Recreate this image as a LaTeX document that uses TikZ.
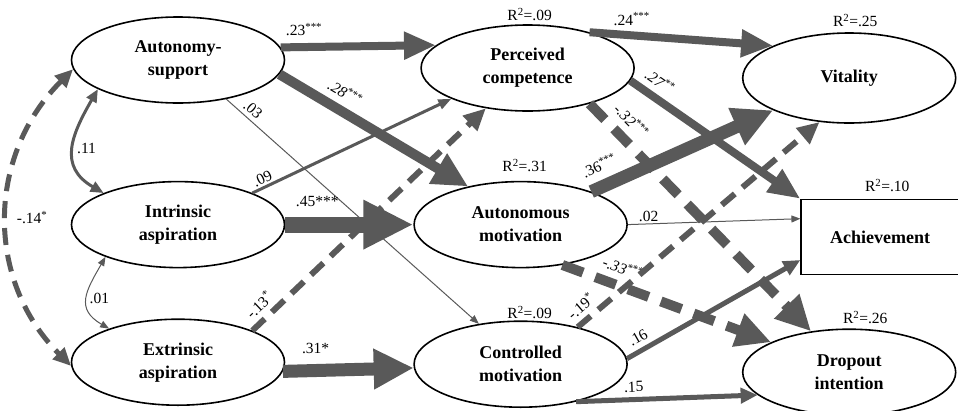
\documentclass[tikz,border=0pt]{standalone}
\usepackage{fontspec}
\setmainfont{Liberation Serif}
\usetikzlibrary{shapes.geometric, arrows.meta, positioning}
\definecolor{pathgray}{RGB}{89,89,89}
\tikzset{
    latent/.style={ellipse, draw=black, line width=1.6pt, minimum width=213pt, minimum height=86pt, inner sep=0pt, align=center, font=\fontsize{18}{23}\selectfont\bfseries},
    observed/.style={rectangle, draw=black, line width=1.6pt, minimum width=158pt, minimum height=75pt, inner sep=0pt, font=\fontsize{18}{23}\selectfont\bfseries},
    rsq/.style={font=\fontsize{15.5}{16}\selectfont, inner sep=1pt},
    coef/.style={font=\fontsize{15.5}{16}\selectfont, inner sep=2pt},
    e1/.style={draw=pathgray, line width=1pt, -{Triangle[length=9pt, width=7pt]}},
    e3/.style={draw=pathgray, line width=3pt, -{Triangle[length=13pt, width=10pt]}},
    e5/.style={draw=pathgray, line width=5pt, -{Triangle[length=17pt, width=15pt]}},
    e6/.style={draw=pathgray, line width=6pt, -{Triangle[length=22pt, width=20pt]}},
    e8/.style={draw=pathgray, line width=8pt, -{Triangle[length=32pt, width=26pt]}},
    e10/.style={draw=pathgray, line width=10pt, -{Triangle[length=35pt, width=33pt]}},
    e13/.style={draw=pathgray, line width=13pt, -{Triangle[length=40pt, width=38pt]}},
    e16/.style={draw=pathgray, line width=16pt, -{Triangle[length=50pt, width=46pt]}},
    c1/.style={draw=pathgray, line width=1pt, {Triangle[length=9pt, width=7pt]}-{Triangle[length=9pt, width=7pt]}},
    c3/.style={draw=pathgray, line width=3pt, {Triangle[length=13pt, width=11pt]}-{Triangle[length=13pt, width=11pt]}},
    c5/.style={draw=pathgray, line width=5pt, {Triangle[length=18pt, width=16pt]}-{Triangle[length=18pt, width=16pt]}},
    neg/.style={dash pattern=on 22pt off 13pt},
    negsmall/.style={dash pattern=on 17pt off 10pt}
}

\begin{document}
\begin{tikzpicture}[x=1pt, y=1pt]
    \useasboundingbox (0,0) rectangle (958,-410);

    % Aspirations and autonomy-support
    \node (AS) [latent] at (178,-60) {Autonomy-\\support};
    \node (IA) [latent, below=77pt of AS] {Intrinsic\\aspiration};
    \node (EA) [latent, below=50pt of IA] {Extrinsic\\aspiration};

    % Mediators
    \node (AM) [latent, right=128pt of IA] {Autonomous\\motivation};
    \node (PC) [latent, above=69pt of AM, xshift=7pt] {Perceived\\competence};
    \node (CM) [latent, below=52pt of AM] {Controlled\\motivation};

    % Outcomes
    \node (VI) [latent, right=107pt of PC, yshift=-10pt, minimum height=90pt] {Vitality};
    \node (AC) [observed, below=75pt of VI, xshift=31pt] {Achievement};
    \node (DI) [latent, below=53pt of AC, xshift=-31pt] {Dropout\\intention};

    % Explained variance
    \node [rsq, above=2pt of PC, xshift=2pt] {R\textsuperscript{2}=.09};
    \node [rsq, above=4pt of VI, xshift=6pt] {R\textsuperscript{2}=.25};
    \node [rsq, above=8pt of AM, xshift=4pt] {R\textsuperscript{2}=.31};
    \node [rsq, above=6pt of AC, xshift=7pt] {R\textsuperscript{2}=.10};
    \node [rsq, above=0pt of CM, xshift=9pt] {R\textsuperscript{2}=.09};
    \node [rsq, above=3pt of DI, xshift=16pt] {R\textsuperscript{2}=.26};

    % Covariances
    \draw [c3] (AS.-160) to[out=-120, in=150, looseness=1.3] node[coef, right] {.11} (IA.157);
    \draw [c1] (IA.-156) to[out=-120, in=150, looseness=1.4] node[coef, right] {.01} (EA.154);
    \draw [c5, negsmall] (AS.185) to[out=225, in=135, looseness=1.05] node[coef, right=5pt] {-.14\textsuperscript{*}} (EA.182);

    % Paths from autonomy-support
    \draw [e8] (AS.7) -- node[coef, pos=0.15, above=5pt] {.23\textsuperscript{***}} (PC.166);
    \draw [e10] (AS.-8) -- node[coef, pos=0.3, sloped, above=5pt] {\textit{.28}\textsuperscript{***}} (AM.144);
    \draw [e1] (AS.-39) -- node[coef, pos=0.08, sloped, above=2pt] {.03} (CM.136);

    % Paths from aspirations
    \draw [e3] (IA.23) -- node[coef, pos=0.07, sloped, above] {.09} (PC.-158);
    \draw [e16] (IA.east) -- node[coef, pos=0.25, above=8pt] {.45***} (AM.west);
    \draw [e6, negsmall] (EA.23) -- node[coef, pos=0.07, sloped, above=3pt] {-.13\textsuperscript{*}} (PC.-136);
    \draw [e13] (EA.-5) -- node[coef, pos=0.25, above=8pt] {.31*} (CM.182);

    % Paths to outcomes
    \draw [e8] (PC.30) -- node[coef, pos=0.23, above=4pt] {.24\textsuperscript{***}} (VI.157);
    \draw [e8] (PC.-7) -- node[coef, pos=0.12, sloped, above=4pt] {\textit{.27}\textsuperscript{**}} (AC.north west);
    \draw [e10, neg] (PC.-30) -- node[coef, pos=0.13, sloped, above=5pt] {\textit{-.32}\textsuperscript{***}} (DI.133);
    \draw [e13] (AM.25) -- node[coef, pos=0.09, sloped, above=6pt] {.36\textsuperscript{***}} (VI.-157);
    \draw [e1] (AM.east) -- node[coef, pos=0.12, above] {.02} (AC.167);
    \draw [e10, neg] (AM.-44) -- node[coef, pos=0.26, sloped, above=5pt] {\textit{-.33}\textsuperscript{***}} (DI.159);
    \draw [e6, negsmall] (CM.33) -- node[coef, pos=0.05, sloped, above=3pt] {-.19\textsuperscript{*}} (VI.-124);
    \draw [e5] (CM.3) -- node[coef, pos=0.1, sloped, above=3pt] {.16} (AC.196);
    \draw [e5] (CM.-34) -- node[coef, pos=0.32, sloped, above=3pt] {.15} (DI.-166);
\end{tikzpicture}
\end{document}
